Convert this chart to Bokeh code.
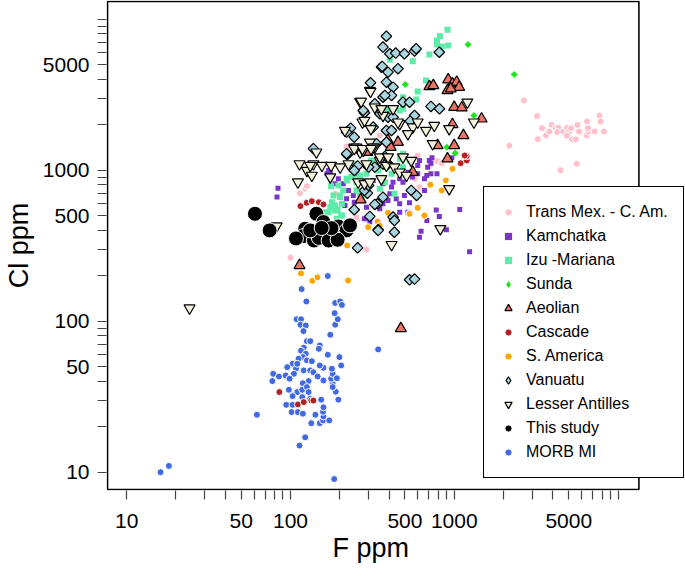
import numpy as np
from bokeh.plotting import figure
from bokeh.models import (FixedTicker, Legend, LegendItem, Range1d, NumeralTickFormatter,
                          BoxAnnotation, Title)
from bokeh.embed import file_html
from bokeh.resources import INLINE

# ---------------- data (F ppm, Cl ppm) ----------------
morb_f = [16.1, 18.1, 62.4, 113.5, 123, 185, 343, 169, 117, 125, 109, 116, 115, 124, 120, 126, 132, 151, 149,
          120.5, 116, 124, 119, 112, 126, 135, 103, 95.5, 108, 110, 120.5, 132, 138, 78.5, 85.1, 93.4, 105, 77.5,
          98.8, 129, 146.5, 159, 119, 97.8, 110, 118, 126, 129, 103, 118, 132, 94.2, 103, 101.6, 111, 119, 142,
          134, 151, 158, 172.5, 159, 158, 159, 154, 196, 189, 181, 177, 181, 192, 179, 204, 199, 169, 175, 187.5,
          194.5, 186, 187.5, 201, 206, 151, 159, 181]
morb_cl = [10.0, 11.0, 24.0, 15.0, 17.0, 9.0, 65, 199, 163, 135, 103, 103, 94.7, 93.7, 85.9, 73.7, 73.7, 69, 65.6,
           66.7, 63.7, 60.8, 57.8, 56.4, 55, 54.3, 52.2, 49.6, 48.4, 52.2, 47.2, 47.2, 45.9, 44.8, 43.0, 43.7, 44.8,
           40.1, 41.6, 40.1, 43.0, 49.1, 38.8, 35.1, 33.9, 35.1, 36.6, 33.9, 31.9, 31.4, 30.6, 27.9, 27.9, 25.0,
           25.0, 24.4, 24.0, 21.1, 21.1, 22.0, 22.0, 23.4, 25.1, 26.9, 30.2, 30.2, 34.1, 38.5, 41.6, 44.8, 41.9,
           48.4, 50.9, 57.8, 59.9, 81.3, 94.7, 103, 113, 132, 135, 128, 50.9, 40.5, 36.6]

tmca_f = [2661, 2168, 3202, 3433, 3236, 3631, 3806, 3930, 4156, 4315, 4260, 4625, 4892, 5000, 4870, 5248, 5513,
          5649, 5781, 6427, 6607, 6463, 6550, 7187, 7700, 7816, 8195, 5170, 4457, 5594,
          100, 114, 123, 126, 220, 183, 291, 257, 613, 572, 598, 187, 253, 351, 721, 812, 1202, 716, 791, 837]
tmca_cl = [2895, 1451, 2279, 1897, 1603, 1698, 1803, 1995, 1909, 1909, 1786, 1803, 1909, 1786, 1690, 1597, 1597,
           1995, 1803, 1698, 1803, 2101, 1897, 1803, 2301, 2101, 1803, 1897, 1000, 1102,
           263, 704, 753, 783, 1436, 690, 298, 476, 772, 877, 1250, 698, 489, 1698, 1130, 1130, 1250, 1086, 1147, 1112]

kam_f = [83.9, 82.7, 175, 196, 210, 226, 220, 242, 245, 291, 283, 305, 351, 367, 394, 404, 442, 464, 464, 521,
         533, 496, 414, 486, 555, 521, 598, 613, 598, 688, 704, 627, 680, 320, 367, 320, 351, 215, 192, 283, 266,
         464, 423, 253, 187, 167, 731, 720, 679, 720, 784, 658, 776, 810, 895, 1080, 1240, 966, 658, 613, 171]
kam_cl = [760, 663, 961, 877, 812, 734, 647, 680, 614, 569, 476, 453, 555, 599, 630, 698, 647, 599, 527, 527,
          608, 680, 772, 833, 900, 970, 947, 1159, 1074, 1047, 1159, 394, 464, 855, 812, 1074, 1159, 584, 541, 734,
          833, 877, 833, 947, 812, 947, 1208, 1112, 923, 947, 947, 877, 544, 494, 403, 548, 288, 1208, 734, 360, 995]

izu_f = [909, 817, 784, 784, 840, 918, 705, 558, 672, 598, 585, 486, 486, 464, 394, 404,
         486, 467, 385, 320, 343, 283, 291, 242, 220, 253, 266, 283, 210, 201, 183, 179, 187, 206, 175, 159, 192,
         196, 377, 533, 414, 431, 486, 351, 177, 201, 206, 194, 171, 204, 187, 235, 222, 253, 266, 245, 310, 385, 343]
izu_cl = [8510, 7710, 7220, 6800, 6590, 6700, 5830, 5270, 3930, 3320, 2940, 3040, 2550, 2485, 2530, 5380,
          1285, 1190, 1047, 1130, 995, 1102, 947, 900, 877, 734, 698, 680, 734, 663, 680, 614, 541, 501, 569, 527,
          476, 792, 833, 1159, 947, 698, 1047, 753, 783, 680, 600, 547, 527, 501, 584, 900, 855, 833, 923, 1091,
          1159, 1219, 1074]

sunda_f = [2323, 1213, 502, 1318, 901, 1013]
sunda_cl = [4305, 6800, 3695, 2301, 1419, 1296]

aeo_f = [918, 975, 1035, 1071, 909, 952, 705, 745, 999, 1110, 1468, 975, 1137, 999, 791, 909, 394, 453, 558,
         268, 295, 409, 113.5, 472]
aeo_cl = [3970, 3733, 3826, 3545, 3371, 3460, 3582, 3639, 2612, 2588, 2188, 2009, 1698, 1458, 1458, 1190, 1574,
          1531, 970, 637, 1315, 1419, 234, 89.5]

casc_f = [85.5, 111, 120.5, 134, 138, 115, 125.5, 135, 149, 159, 1094, 1191, 1191, 1157]
casc_cl = [33.9, 28.1, 29.1, 29.8, 29.8, 578, 608, 623, 613, 593, 1112, 1159, 1238, 1250]

sam_f = [116, 136, 146, 225, 222, 298, 340, 394, 351, 975, 714, 837, 888, 533, 598, 657]
sam_cl = [207, 185, 195, 186, 317, 419, 457, 522, 428, 1021, 801, 734, 855, 514, 563, 501]

van_f = [385, 367, 404, 359, 394, 385, 308, 367, 327, 283, 351, 394, 385, 233, 220, 245, 335, 385, 138, 222,
         377, 327, 257, 394, 295, 340, 245, 305, 343, 257, 439, 496, 572, 585, 810, 363, 453, 423, 414, 377, 486,
         533, 720, 812, 278, 423, 572, 538, 320, 414, 220, 300, 367, 245, 546, 589, 283, 367, 343, 533, 572, 423,
         327, 431, 431, 300]
van_cl = [7710, 6530, 5900, 4810, 4457, 3826, 3790, 3040, 2754, 2400, 2364, 2244, 1832, 1897, 1786, 1654, 1496,
          1531, 1387, 1264, 1232, 1047, 1067, 1100, 704, 599, 547, 494, 403, 306, 5960, 5900, 6140, 6370, 6040,
          4862, 4695, 3545, 3126, 3126, 2818, 2818, 2642, 2550, 2485, 2244, 2301, 2111, 1928, 1832, 1285, 1047,
          1100, 995, 734, 680, 734, 663, 399, 188, 190, 489, 593, 464, 388, 792]

la_f = [305, 266, 275, 310, 215, 305, 327, 245, 266, 226, 291, 351, 385, 113.5, 138, 126, 135, 155.5, 177, 201,
        175, 111, 259, 283, 144, 82.3, 270, 327, 367, 283, 464, 558, 598, 672, 755, 738, 931, 1202, 1318, 253,
        278, 320, 351, 394, 431, 486, 546, 359, 305, 464, 511, 931, 822, 414, 132, 24.2, 308, 359, 423, 453, 521,
        245, 275, 310]
la_cl = [3371, 2851, 2078, 1880, 1832, 1531, 1419, 1419, 1315, 1100, 1100, 1159, 1074, 1100, 1100, 995, 923,
         1074, 1074, 1047, 900, 833, 833, 812, 1315, 426, 2851, 2612, 2301, 2133, 2028, 1928, 2078, 1832, 1977,
         1496, 1880, 2818, 2078, 1419, 1349, 1419, 1222, 1222, 1047, 1222, 1159, 877, 833, 970, 923, 753, 409,
         321, 1074, 122, 3320, 2550, 2550, 2078, 1742, 1387, 1387, 1387]

study_f = [60.7, 74.6, 144, 159, 123, 120, 139, 149, 175, 196, 220, 231, 171, 194, 132, 178, 108, 155]
study_cl = [514, 399, 514, 453, 409, 366, 342, 356, 385, 424, 399, 431, 342, 346, 399, 413, 353, 414]

x_ticks = [10, 50, 100, 500, 1000, 5000]
y_ticks = [10, 50, 100, 500, 1000, 5000]
minor = [20, 30, 40, 60, 70, 80, 90, 200, 300, 400, 600, 700, 800, 900,
         2000, 3000, 4000, 6000, 7000, 8000, 9000, 10000]

# plot box (axis limits of the original plot region)
box_x = (7.64, 13400)
box_y = (7.67, 13090)

FONT = "Liberation Sans"
NAN = [float("nan")]

p = figure(width=685, height=570, x_axis_type="log", y_axis_type="log",
           x_range=Range1d(7.53, 25800), y_range=Range1d(7.56, 13290),
           output_backend="svg", toolbar_location=None,
           min_border_left=101, min_border_right=0, min_border_top=0, min_border_bottom=80)
p.background_fill_color = "white"
p.border_fill_color = "white"
p.xgrid.visible = False
p.ygrid.visible = False
p.outline_line_color = None

for ax, ticks in ((p.xaxis[0], x_ticks), (p.yaxis[0], y_ticks)):
    ax.ticker = FixedTicker(ticks=ticks, minor_ticks=minor)
    ax.formatter = NumeralTickFormatter(format="0")
    ax.axis_line_color = None
    ax.major_tick_out = 9
    ax.major_tick_in = 0
    ax.minor_tick_out = 9
    ax.minor_tick_in = 0
    ax.major_tick_line_color = "#444444"
    ax.minor_tick_line_color = "#444444"
    ax.major_tick_line_width = 1.2
    ax.minor_tick_line_width = 1.2
    ax.major_label_text_font = FONT
    ax.major_label_text_font_size = "21px"
    ax.major_label_text_color = "black"
    ax.axis_label_text_font = FONT
    ax.axis_label_text_font_size = "27px"
    ax.axis_label_text_font_style = "normal"
    ax.axis_label_text_color = "black"

p.yaxis.axis_label = "Cl ppm"
p.xaxis.major_label_standoff = 14
p.yaxis.major_label_standoff = 8
p.yaxis.axis_label_standoff = 6

xlabel = Title(text="F ppm", align="left", offset=226, text_font=FONT, text_font_size="27px",
               text_font_style="normal", text_color="black", standoff=0)
p.add_layout(xlabel, "below")

box = BoxAnnotation(left=box_x[0], right=box_x[1], bottom=box_y[0], top=box_y[1],
                    fill_color=None, fill_alpha=0, line_color="black", line_alpha=1.0, line_width=1.6)
p.add_layout(box)

r_morb = p.scatter(morb_f, morb_cl, marker="circle", size=7, fill_color="#4169E1", line_color="white", line_width=1)
r_tmca = p.scatter(tmca_f, tmca_cl, marker="circle", size=7, fill_color="#FFC0CB", line_color="white", line_width=1)
r_kam = p.scatter(kam_f, kam_cl, marker="square", size=5, fill_color="#7A35C8", line_color=None)
r_izu = p.scatter(izu_f, izu_cl, marker="square", size=6, fill_color="#5DEBA8", line_color=None)
r_sunda = p.scatter(sunda_f, sunda_cl, marker="square", angle=np.pi / 4, size=5, fill_color="#1EE61E", line_color=None)
r_casc = p.scatter(casc_f, casc_cl, marker="circle", size=7, fill_color="#B22222", line_color="white", line_width=1)
r_sam = p.scatter(sam_f, sam_cl, marker="circle", size=7, fill_color="#FFA500", line_color="white", line_width=1)
r_aeo = p.scatter(aeo_f, aeo_cl, marker="triangle", size=11, fill_color="#EA7565", line_color="black", line_width=1.2)
r_van = p.scatter(van_f, van_cl, marker="square", angle=np.pi / 4, size=7.5, fill_color="#A8D5E0",
                  line_color="black", line_width=1.2)
r_la = p.scatter(la_f, la_cl, marker="inverted_triangle", size=11, fill_color="#F3F1DC", line_color="black",
                 line_width=1.2)
r_study = p.scatter(study_f, study_cl, marker="circle", size=15, fill_color="black", line_color="white",
                    line_width=1)

# legend-only proxies for diamond symbols (no data, nothing drawn in the plot)
leg_sunda = p.scatter(NAN, NAN, marker="diamond", size=6, fill_color="#1EE61E", line_color=None)
leg_van = p.scatter(NAN, NAN, marker="diamond", size=8, fill_color="#A8D5E0", line_color="black", line_width=1.2)

labels = ["Trans Mex. - C. Am.", "Kamchatka", "Izu -Mariana", "Sunda", "Aeolian", "Cascade", "S. America",
          "Vanuatu", "Lesser Antilles", "This study", "MORB MI"]
rends = [r_tmca, r_kam, r_izu, leg_sunda, r_aeo, r_casc, r_sam, leg_van, r_la, r_study, r_morb]
legend = Legend(items=[LegendItem(label=l, renderers=[r]) for l, r in zip(labels, rends)],
                location=(377, 12))
legend.label_text_font = FONT
legend.label_text_font_size = "16px"
legend.label_text_color = "black"
legend.glyph_width = 18
legend.glyph_height = 20
legend.label_height = 20
legend.spacing = 4
legend.padding = 15
legend.margin = 0
legend.label_standoff = 9
legend.border_line_color = "black"
legend.border_line_alpha = 1.0
legend.border_line_width = 1.5
legend.background_fill_color = "white"
legend.background_fill_alpha = 1.0
p.add_layout(legend)

open("out.html", "w").write(file_html(p, INLINE))
